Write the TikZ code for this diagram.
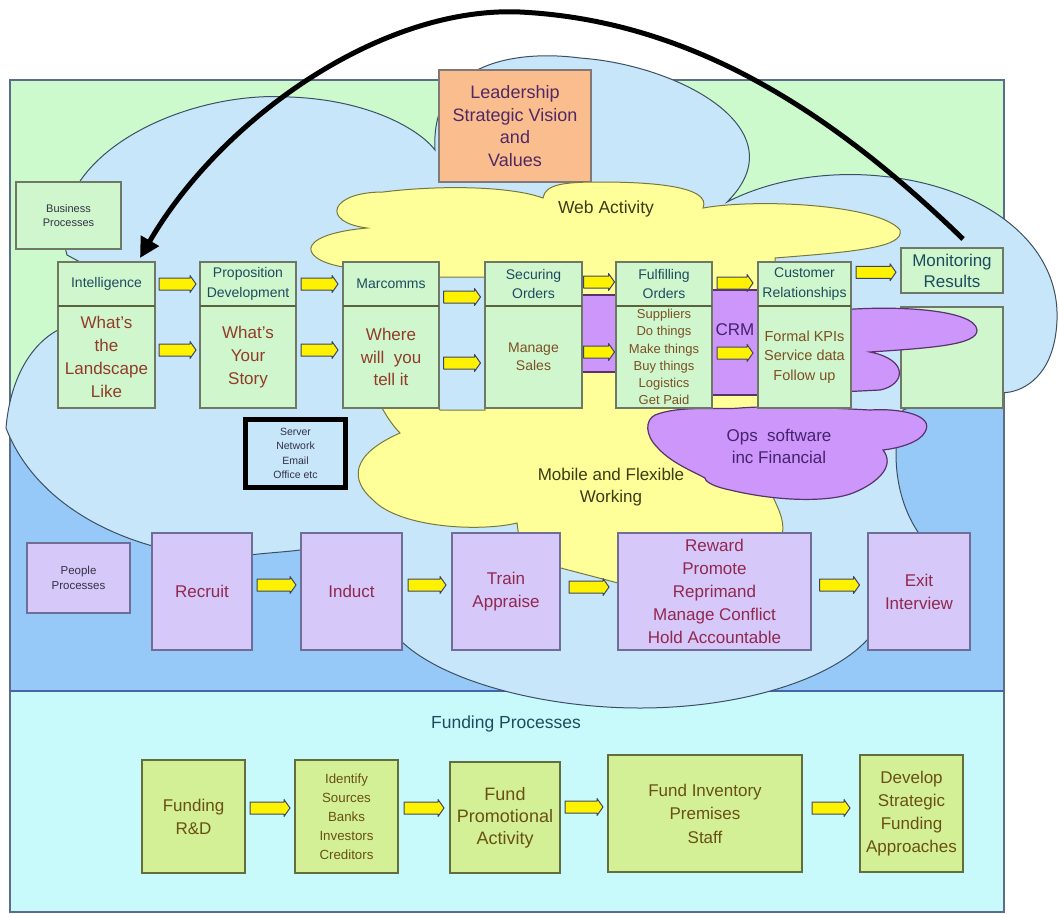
\documentclass[tikz,border=0pt]{standalone}
\usepackage{fontspec}
\setmainfont{Liberation Sans}
\usetikzlibrary{arrows.meta,calc}
\definecolor{bandgreen}{RGB}{204,250,204}
\definecolor{bandblue}{RGB}{150,200,248}
\definecolor{bandcyan}{RGB}{200,250,252}
\definecolor{cloudblue}{RGB}{200,230,250}
\definecolor{cloudyellow}{RGB}{255,255,153}
\definecolor{cloudpurple}{RGB}{204,150,250}
\definecolor{boxgreen}{RGB}{208,246,206}
\definecolor{boxlav}{RGB}{214,200,248}
\definecolor{boxlime}{RGB}{212,240,150}
\definecolor{boxorange}{RGB}{250,190,142}
\definecolor{edgegray}{RGB}{110,120,100}
\definecolor{pedge}{RGB}{110,110,150}
\definecolor{fedge}{RGB}{100,110,60}
\definecolor{leadedge}{RGB}{130,120,120}
\definecolor{framec}{RGB}{90,110,140}
\definecolor{bandline}{RGB}{70,100,170}
\definecolor{cloudedge}{RGB}{60,80,100}
\definecolor{yedge}{RGB}{120,120,60}
\definecolor{pedgedark}{RGB}{90,50,110}
\definecolor{sepcol}{RGB}{90,100,60}
\definecolor{arrowedge}{RGB}{60,70,100}
\definecolor{hdrtext}{RGB}{30,75,95}
\definecolor{bodytext}{RGB}{145,60,40}
\definecolor{smalltext}{RGB}{125,80,35}
\definecolor{peopletext}{RGB}{145,40,80}
\definecolor{fundtext}{RGB}{105,80,20}
\definecolor{leadtext}{RGB}{80,40,100}
\definecolor{cloudtext}{RGB}{60,60,20}
\definecolor{opstext}{RGB}{70,35,110}
\definecolor{darktext}{RGB}{50,50,70}
\tikzset{
 bx/.style={draw=edgegray, line width=1.2pt, inner sep=1pt, outer sep=0pt, align=center},
 bgbox/.style={bx, fill=boxgreen},
 hdr/.style={bgbox, text=hdrtext, minimum height=44pt, font=\fontsize{14}{19.5}\selectfont},
 bdy/.style={bgbox, text=bodytext, minimum height=102pt, font=\fontsize{17}{23}\selectfont},
 pbox/.style={bx, draw=pedge, fill=boxlav, text=peopletext, minimum height=117pt, font=\fontsize{17}{23}\selectfont},
 fbox/.style={bx, draw=fedge, fill=boxlime, text=fundtext, font=\fontsize{17}{23}\selectfont},
 pics/blockarr/.style={code={
   \filldraw[fill=yellow, draw=arrowedge, line width=1pt, line join=round]
     (-#1,-6) -- (#1-6,-6) -- (#1-6,-8.5) -- (#1,0) -- (#1-6,8.5) -- (#1-6,6) -- (-#1,6) -- cycle;}},
 sepline/.style={draw=sepcol, line width=2.8pt},
 cloudb/.style={fill=cloudblue, draw=cloudedge, line width=1pt},
 cloudy/.style={fill=cloudyellow, draw=yedge, line width=1pt},
 cloudp/.style={fill=cloudpurple, draw=pedgedark, line width=1.2pt},
 lbl/.style={align=center, inner sep=0pt},
}
\begin{document}
\begin{tikzpicture}[x=1pt,y=-1pt]
\useasboundingbox (0,0) rectangle (1059,913);
\fill[white] (0,0) rectangle (1059,913);
% bands
\fill[bandgreen] (10,80) rectangle (1004,394);
\fill[bandblue] (10,394) rectangle (1004,691);
\fill[bandcyan] (10,691) rectangle (1004,912);
\draw[framec, line width=1.2pt] (10,80) rectangle (1004,912);
\draw[bandline, line width=2.5pt] (10,691) -- (1004,691);
% big light blue cloud
\filldraw[cloudb] (67,255)
 .. controls (40,160) and (180,90) .. (290,97)
 .. controls (370,100) and (420,130) .. (435,150)
 .. controls (430,60) and (520,50) .. (580,58)
 .. controls (680,65) and (800,130) .. (727,202)
 .. controls (780,175) and (840,172) .. (880,176)
 .. controls (980,185) and (1060,240) .. (1057,320)
 .. controls (1055,370) and (1030,388) .. (1010,392)
 .. controls (980,396) and (930,400) .. (903,410)
 .. controls (890,450) and (895,500) .. (920,535)
 -- (930,600) -- (867,640)
 .. controls (830,680) and (740,708) .. (640,708)
 .. controls (540,708) and (440,680) .. (400,640)
 -- (380,560) -- (300,550)
 .. controls (285,552) and (265,553) .. (250,555)
 -- (230,550) -- (160,548)
 .. controls (90,530) and (30,490) .. (6,428)
 .. controls (10,380) and (30,345) .. (58,330)
 -- (80,300) -- (80,262) -- cycle;
% boxes over the cloud
\node[bgbox, minimum width=105pt, minimum height=67pt, text=darktext, font=\fontsize{11}{14.5}\selectfont] (bproc) at (68.5,215.5) {Business\\Processes};
\node[bx, fill=boxorange, draw=leadedge, minimum width=152pt, minimum height=112pt, text=leadtext, font=\fontsize{18}{22.5}\selectfont] (lead) at (515,126) {Leadership\\Strategic Vision\\and\\Values};
% yellow clouds
\filldraw[cloudy] (350,268)
 .. controls (300,262) and (290,235) .. (367,228)
 .. controls (320,222) and (330,192) .. (383,192)
 .. controls (440,185) and (510,186) .. (543,198)
 .. controls (545,184) and (565,182) .. (600,182)
 .. controls (650,182) and (712,186) .. (703,208)
 .. controls (760,198) and (880,205) .. (900,230)
 .. controls (905,248) and (850,252) .. (775,258)
 -- (775,300) -- (580,300) -- (490,277) -- (420,277) -- cycle;
\filldraw[cloudy] (382,408) -- (430,398) -- (440,410) -- (485,410) -- (495,330) -- (760,330) -- (800,400) -- (800,430) -- (770,490)
 .. controls (776,505) and (786,520) .. (782,535)
 -- (795,570) -- (700,590) -- (618,583) -- (557,567) -- (520,545) -- (517,523)
 .. controls (480,532) and (400,528) .. (373,500)
 .. controls (350,480) and (350,455) .. (400,433)
 .. controls (392,425) and (386,415) .. (382,408) -- cycle;
% monitoring body box (under the purple bump)
\node[bgbox, minimum width=102pt, minimum height=101pt] (monb) at (952,357.5) {};
% purple shapes
\filldraw[cloudp, line width=2pt] (570,295) rectangle (628,372);
\filldraw[cloudp] (705,290) rectangle (765,395);
\filldraw[cloudp] (840,310) .. controls (900,305) and (975,310) .. (977,330)
 .. controls (978,345) and (930,348) .. (870,352)
 .. controls (910,360) and (905,385) .. (880,390)
 -- (840,392) -- cycle;
\filldraw[cloudp] (655,415) .. controls (680,405) and (720,410) .. (740,408)
 .. controls (780,405) and (830,408) .. (870,410)
 .. controls (900,408) and (935,415) .. (925,432)
 .. controls (920,442) and (900,448) .. (883,450)
 .. controls (895,465) and (880,482) .. (853,493)
 .. controls (830,502) and (780,502) .. (730,490)
 .. controls (715,487) and (705,482) .. (705,478)
 .. controls (690,470) and (670,462) .. (657,447)
 .. controls (645,435) and (645,420) .. (655,415) -- cycle;
% business boxes
\node[hdr, minimum width=97pt] (inth) at (106.5,284) {Intelligence};
\node[bdy, minimum width=97pt] (intb) at (106.5,357) {What's\\the\\Landscape\\Like};
\node[hdr, minimum width=96pt] (proph) at (248,284) {Proposition\\Development};
\node[bdy, minimum width=96pt] (propb) at (248,357) {What's\\Your\\Story};
\node[hdr, minimum width=96pt] (march) at (391,284) {Marcomms};
\node[bdy, minimum width=96pt, font=\fontsize{17}{22.5}\selectfont] (marcb) at (391,357) {Where\\will\ \ you\\tell it};
\node[hdr, minimum width=97pt] (sech) at (533.5,284) {Securing\\Orders};
\node[bdy, minimum width=97pt, text=smalltext, font=\fontsize{14}{18}\selectfont] (secb) at (533.5,357) {Manage\\Sales};
\node[hdr, minimum width=96pt] (fulh) at (664,284) {Fulfilling\\Orders};
\node[bdy, minimum width=96pt, text=smalltext, font=\fontsize{13}{17.2}\selectfont] (fulb) at (664,357) {Suppliers\\Do things\\Make things\\Buy things\\Logistics\\Get Paid};
\node[hdr, minimum width=93pt] (custh) at (804.5,284) {Customer\\Relationships};
\node[bdy, minimum width=93pt, text=smalltext, font=\fontsize{14.5}{19.5}\selectfont] (custb) at (804.5,357) {Formal KPIs\\Service data\\Follow up};
\node[hdr, minimum width=102pt, minimum height=45pt, font=\fontsize{17}{21}\selectfont] (monh) at (952,270.5) {Monitoring\\Results};
\foreach \n in {inth,proph,march,sech,fulh,custh} \draw[sepline] (\n.south west) -- (\n.south east);
% server box
\node[bx, draw=black, line width=4.5pt, fill=cloudblue, minimum width=100pt, minimum height=68pt, text=darktext, font=\fontsize{10.5}{14.5}\selectfont] (server) at (295.5,453.5) {Server\\Network\\Email\\Office etc};
% cloud labels
\node[lbl, text=cloudtext, font=\fontsize{17.5}{21}\selectfont] (webl) at (606,209) {Web Activity};
\node[lbl, text=cloudtext, font=\fontsize{17}{21.5}\selectfont] (mobl) at (611,487) {Mobile and Flexible\\Working};
\node[lbl, text=opstext, font=\fontsize{17}{22}\selectfont] (opsl) at (779,446) {Ops\ \ software\\inc Financial};
\node[lbl, text=opstext, font=\fontsize{17}{20}\selectfont] (crml) at (735,330) {CRM};
% people row
\node[bx, draw=pedge, fill=boxlav, minimum width=103pt, minimum height=70pt, text=darktext, font=\fontsize{11.5}{15}\selectfont] (pproc) at (78.5,578) {People\\Processes};
\node[pbox, minimum width=100pt] (recruit) at (202,591.5) {Recruit};
\node[pbox, minimum width=101pt] (induct) at (351.5,591.5) {Induct};
\node[pbox, minimum width=108pt] (train) at (506,591.5) {Train\\Appraise};
\node[pbox, minimum width=193pt] (reward) at (714.5,591.5) {Reward\\Promote\\Reprimand\\Manage Conflict\\Hold Accountable};
\node[pbox, minimum width=102pt] (exitbox) at (919,591.5) {Exit\\Interview};
% funding row
\node[lbl, text=hdrtext, font=\fontsize{17.5}{21}\selectfont] (fundl) at (506,724) {Funding Processes};
\node[fbox, minimum width=103pt, minimum height=113pt] (frd) at (193.5,816.5) {Funding\\R\&D};
\node[fbox, minimum width=103pt, minimum height=113pt, font=\fontsize{13.3}{19}\selectfont] (ident) at (346.5,816.5) {Identify\\Sources\\Banks\\Investors\\Creditors};
\node[fbox, minimum width=110pt, minimum height=111pt, font=\fontsize{18}{22}\selectfont] (promo) at (505,817.5) {Fund\\Promotional\\Activity};
\node[fbox, minimum width=194pt, minimum height=117pt, font=\fontsize{17}{23.5}\selectfont] (inv) at (705,813.5) {Fund Inventory\\Premises\\Staff};
\node[fbox, minimum width=103pt, minimum height=117pt] (dev) at (911.5,813.5) {Develop\\Strategic\\Funding\\Approaches};
% block arrows
\pic (a1) at ($(inth.east)!.5!(proph.west)$) {blockarr=18.5};
\pic[yshift=7pt] (a2) at ($(intb.east)!.5!(propb.west)$) {blockarr=18.5};
\pic (a3) at ($(proph.east)!.5!(march.west)$) {blockarr=18.5};
\pic[yshift=7pt] (a4) at ($(propb.east)!.5!(marcb.west)$) {blockarr=18.5};
\pic[yshift=-13pt] (a5) at ($(march.east)!.5!(sech.west)$) {blockarr=18.5};
\pic[yshift=-6pt] (a6) at ($(marcb.east)!.5!(secb.west)$) {blockarr=18.5};
\pic[yshift=2pt] (a7) at ($(sech.east)!.5!(fulh.west)$) {blockarr=15.5};
\pic[yshift=5pt] (a8) at ($(secb.east)!.5!(fulb.west)$) {blockarr=15.5};
\pic[yshift=1pt] (a9) at ($(fulh.east)!.5!(custh.west)$) {blockarr=18};
\pic[yshift=4pt] (a10) at ($(fulb.east)!.5!(custb.west)$) {blockarr=18};
\pic[yshift=5pt] (a11) at ($(custh.east)!.5!(monh.west)$) {blockarr=20};
\pic[yshift=6.5pt] (a12) at ($(recruit.east)!.5!(induct.west)$) {blockarr=19.5};
\pic[yshift=6.5pt] (a13) at ($(induct.east)!.5!(train.west)$) {blockarr=19};
\pic[yshift=4.5pt] (a14) at ($(train.east)!.5!(reward.west)$) {blockarr=20};
\pic[yshift=6.5pt] (a15) at ($(reward.east)!.5!(exitbox.west)$) {blockarr=20};
\pic[yshift=8.5pt] (a16) at ($(frd.east)!.5!(ident.west)$) {blockarr=20};
\pic[yshift=9pt] (a17) at ($(ident.east)!.5!(promo.west)$) {blockarr=20};
\pic[yshift=8.5pt] (a18) at ($(promo.east)!.5!(inv.west)$) {blockarr=19};
\pic[yshift=5.5pt] (a19) at ($(inv.east)!.5!(dev.west)$) {blockarr=19};
% big feedback arrow
\draw[line width=5pt, -{Triangle[length=20pt,width=20pt]}] ([xshift=11pt,yshift=9pt]monh.north)
 .. controls (820,100) and (680,20) .. (520,12)
 .. controls (380,6) and (220,120) .. ([xshift=-15pt,yshift=4pt]inth.north east);
\end{tikzpicture}
\end{document}
